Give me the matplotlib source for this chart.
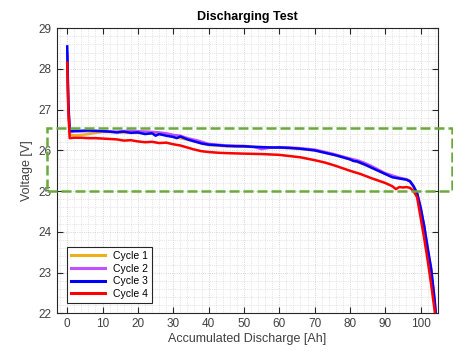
import numpy as np
import matplotlib
matplotlib.use("Agg")
import matplotlib.pyplot as plt
from matplotlib.patches import Rectangle
from matplotlib.ticker import MultipleLocator

plt.rcParams['font.family'] = ['Liberation Sans', 'DejaVu Sans']

# Cycle 1 (orange)
ah1 = [0, 0.3, 0.7, 2, 4, 6, 8, 10, 12, 15, 18, 20, 24, 28, 30, 33, 36, 40, 45, 50,
       55, 60, 65, 70, 75, 80, 85, 90, 93, 96, 97, 98, 99, 100, 101, 102, 103, 104, 104.4]
v1 = [28.3, 27.1, 26.38, 26.37, 26.38, 26.40, 26.43, 26.45, 26.45, 26.44, 26.43, 26.43,
      26.41, 26.38, 26.33, 26.28, 26.22, 26.13, 26.10, 26.09, 26.08, 26.07, 26.04, 26.00,
      25.90, 25.78, 25.62, 25.42, 25.33, 25.29, 25.24, 25.10, 24.92, 24.55, 24.1, 23.55,
      23.0, 22.2, 21.8]

# Cycle 2 (purple)
ah2 = [0, 0.3, 0.7, 2, 5, 8, 10, 14, 17, 20, 23, 26, 28, 30, 32, 34, 37, 40, 45, 50, 53,
       55, 57, 60, 65, 70, 75, 80, 82, 84, 86, 90, 94, 96, 97, 98, 99, 100, 101, 102, 103,
       104, 104.4]
v2 = [28.4, 27.1, 26.45, 26.46, 26.47, 26.47, 26.47, 26.46, 26.48, 26.47, 26.46, 26.44,
      26.42, 26.38, 26.36, 26.30, 26.24, 26.16, 26.12, 26.11, 26.08, 26.03, 26.06, 26.08,
      26.06, 26.02, 25.92, 25.80, 25.76, 25.70, 25.62, 25.44, 25.33, 25.29, 25.25, 25.12,
      24.95, 24.6, 24.15, 23.6, 23.05, 22.3, 21.8]

# Cycle 3 (blue)
ah3 = [0, 0.3, 0.7, 2, 4, 6, 8, 10, 12, 14, 16, 18, 20, 22, 24, 25, 26, 28, 30, 31, 32,
       34, 36, 38, 40, 42, 45, 48, 50, 52, 55, 58, 60, 63, 66, 68, 70, 72, 74, 76, 78, 80,
       81, 82, 84, 86, 88, 90, 92, 94, 96, 97, 98, 99, 100, 101, 102, 103, 104, 104.5]
v3 = [28.55, 27.2, 26.47, 26.48, 26.48, 26.49, 26.48, 26.47, 26.46, 26.44, 26.46, 26.43,
      26.44, 26.40, 26.42, 26.36, 26.40, 26.36, 26.33, 26.30, 26.34, 26.27, 26.22, 26.17,
      26.14, 26.13, 26.11, 26.10, 26.10, 26.09, 26.08, 26.07, 26.07, 26.06, 26.04, 26.02,
      26.00, 25.96, 25.92, 25.88, 25.83, 25.78, 25.74, 25.73, 25.66, 25.58, 25.50, 25.42,
      25.34, 25.31, 25.28, 25.24, 25.12, 24.95, 24.6, 24.15, 23.6, 23.1, 22.3, 21.8]

# Cycle 4 (red)
ah4 = [0, 0.3, 0.7, 2, 4, 6, 8, 10, 12, 14, 16, 18, 20, 22, 24, 26, 28, 30, 32, 34, 36,
       38, 40, 43, 46, 50, 55, 60, 63, 66, 70, 73, 76, 80, 83, 86, 88, 90, 91, 92, 93, 94,
       95, 96, 97, 98, 99, 100, 101, 102, 103, 104, 104.3]
v4 = [28.15, 27.0, 26.30, 26.31, 26.31, 26.30, 26.30, 26.29, 26.28, 26.27, 26.24, 26.25,
      26.22, 26.20, 26.21, 26.18, 26.19, 26.15, 26.12, 26.07, 26.02, 25.98, 25.96, 25.94,
      25.93, 25.92, 25.91, 25.89, 25.86, 25.83, 25.76, 25.70, 25.62, 25.50, 25.42, 25.32,
      25.26, 25.20, 25.16, 25.12, 25.05, 25.10, 25.09, 25.10, 25.08, 25.0, 24.85, 24.35,
      23.85, 23.3, 22.7, 22.05, 21.8]

labels = ['Cycle 1', 'Cycle 2', 'Cycle 3', 'Cycle 4']
colors = ['#EDB120', '#C050FF', '#0000FF', '#FF0000']

# highlighted band
box_x = [-5.7, 108.8]
box_y = [25.0, 26.55]

fig = plt.figure(figsize=(4.53, 3.51), dpi=100)
ax = fig.add_axes([0.125, 0.107, 0.8425, 0.813])

for x, v, lab, c in zip([ah1, ah2, ah3, ah4], [v1, v2, v3, v4], labels, colors):
    ax.plot(x, v, color=c, lw=1.8, label=lab)

ax.set_xlim(-3, 105)
ax.set_ylim(22, 29)
ax.xaxis.set_major_locator(MultipleLocator(10))
ax.xaxis.set_minor_locator(MultipleLocator(2))
ax.yaxis.set_major_locator(MultipleLocator(1))
ax.yaxis.set_minor_locator(MultipleLocator(0.2))
ax.grid(True, which='major', color='#c8c8c8', ls=':', lw=0.6)
ax.grid(True, which='minor', color='#d0d0d0', ls=':', lw=0.5)
ax.tick_params(which='major', direction='in', top=True, right=True, length=4,
               labelsize=8.5, labelcolor='#404040', color='#262626')
ax.tick_params(which='minor', length=0)
for s in ax.spines.values():
    s.set_color('#262626')
    s.set_linewidth(0.8)

ax.set_title('Discharging Test', fontsize=9, fontweight='bold', pad=6)
ax.set_xlabel('Accumulated Discharge [Ah]', fontsize=9, color='#404040', labelpad=2)
ax.set_ylabel('Voltage [V]', fontsize=9, color='#404040', labelpad=4)

ax.add_patch(Rectangle((box_x[0], box_y[0]), box_x[1] - box_x[0], box_y[1] - box_y[0],
                       fill=False, ec='#6AAA3A', lw=1.8, ls=(0, (4, 1.6)), clip_on=False,
                       zorder=5))

leg = ax.legend(loc='lower left', fontsize=7.5, fancybox=False, framealpha=1,
                edgecolor='#262626', borderaxespad=1.0, handlelength=3.2,
                labelspacing=0.25, borderpad=0.4)
leg.get_frame().set_linewidth(0.8)
for line in leg.get_lines():
    line.set_linewidth(2.2)

fig.savefig('out.png', dpi=100)
